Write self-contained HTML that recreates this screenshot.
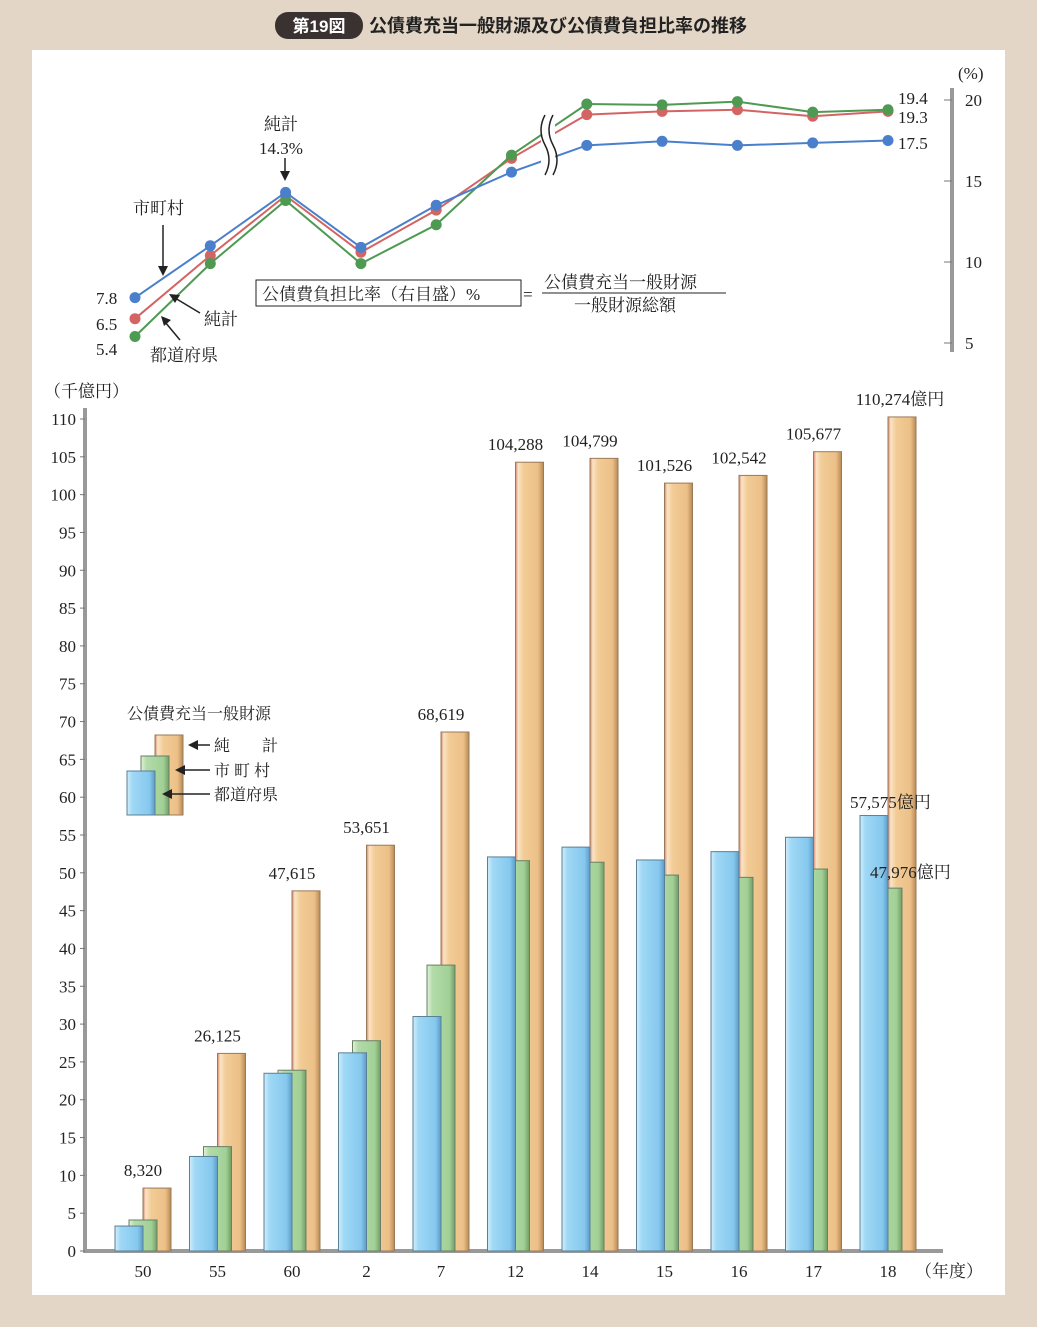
<!DOCTYPE html>
<html><head><meta charset="utf-8"><style>
body{margin:0;width:1037px;height:1327px;background:#e4d6c6;font-family:"Liberation Serif","Noto Serif CJK SC",serif;}
svg{display:block}
</style></head><body>
<svg width="1037" height="1327" xmlns="http://www.w3.org/2000/svg">
<defs>
<linearGradient id="gb" x1="0" x2="1"><stop offset="0" stop-color="#cfeefb"/><stop offset="0.2" stop-color="#9fd8f5"/><stop offset="0.8" stop-color="#86c8ee"/><stop offset="1" stop-color="#5c9cc8"/></linearGradient>
<linearGradient id="gg" x1="0" x2="1"><stop offset="0" stop-color="#e0f2da"/><stop offset="0.2" stop-color="#b2dba8"/><stop offset="0.8" stop-color="#a2d096"/><stop offset="1" stop-color="#6f9e66"/></linearGradient>
<linearGradient id="go" x1="0" x2="1"><stop offset="0" stop-color="#d98870"/><stop offset="0.1" stop-color="#fbe3c4"/><stop offset="0.3" stop-color="#f2cb95"/><stop offset="0.8" stop-color="#ecc088"/><stop offset="1" stop-color="#b88a55"/></linearGradient>
</defs>
<rect x="32" y="50" width="973" height="1245" fill="#fff"/>
<rect x="275" y="12" width="88" height="27" rx="13" fill="#3a3230"/>
<text x="319" y="32" fill="#fff" font-family="Liberation Sans,Noto Sans CJK JP,sans-serif" font-weight="bold" font-size="17" text-anchor="middle">第19図</text>
<text x="369" y="32" fill="#222" font-family="Liberation Sans,Noto Sans CJK JP,sans-serif" font-weight="bold" font-size="18">公債費充当一般財源及び公債費負担比率の推移</text>
<g id="topchart" font-size="17" fill="#222"></g>
<g id="botchart" font-size="17" fill="#222"></g>
</svg>
<script>
const NS="http://www.w3.org/2000/svg";
function mk(p,t,a,txt){const el=document.createElementNS(NS,t);for(const k in a)el.setAttribute(k,a[k]);if(txt!==undefined)el.textContent=txt;p.appendChild(el);return el;}
// ---- bar data (千億円) ----
const years=["50","55","60","2","7","12","14","15","16","17","18"];
const netVals=[8.32,26.125,47.615,53.651,68.619,104.288,104.799,101.526,102.542,105.677,110.274];
const netLabels=["8,320","26,125","47,615","53,651","68,619","104,288","104,799","101,526","102,542","105,677","110,274億円"];
const prefVals=[3.3,12.5,23.5,26.2,31.0,52.1,53.4,51.7,52.8,54.7,57.575];
const muniVals=[4.1,13.8,23.9,27.8,37.8,51.6,51.4,49.7,49.4,50.5,47.976];
const yTicks=[0,5,10,15,20,25,30,35,40,45,50,55,60,65,70,75,80,85,90,95,100,105,110];
// ---- line data (%) ----
const rateMuni=[7.8,11.0,14.3,10.9,13.5,15.55,17.2,17.45,17.2,17.35,17.5];
const rateNet=[6.5,10.4,14.1,10.6,13.2,16.4,19.1,19.3,19.4,19.0,19.3];
const ratePref=[5.4,9.9,13.8,9.9,12.3,16.6,19.75,19.7,19.9,19.25,19.4];
const rTicks=[5,10,15,20];

const botG=document.getElementById('botchart'), topG=document.getElementById('topchart');
const yS=v=>1251-v*7.5636;
const xc=i=>143+i*74.5;
let e;
e=mk(botG,'line',{x1:85,y1:408,x2:85,y2:1253,stroke:'#999',"stroke-width":4});


e=mk(botG,'line',{x1:83,y1:1251,x2:943,y2:1251,stroke:'#999',"stroke-width":4});


yTicks.forEach(t=>{
 e=mk(botG,'line',{x1:80,x2:85,y1:yS(t),y2:yS(t),stroke:'#777'});
 
 
 e=mk(botG,'text',{x:76,y:yS(t)+6,"text-anchor":"end"},t);
 
 
});
e=mk(botG,'text',{x:44,y:397},'（千億円）');


e=mk(botG,'text',{x:915,y:1277},'（年度）');


years.forEach((yr,i)=>{
 const c=xc(i);
 e=mk(botG,'rect',{x:c,y:yS(netVals[i]),width:28,height:1251-yS(netVals[i]),fill:'url(#go)',stroke:'#9a7a5a',"stroke-width":1});
 
 
 e=mk(botG,'rect',{x:c-14,y:yS(muniVals[i]),width:28,height:1251-yS(muniVals[i]),fill:'url(#gg)',stroke:'#6a7f66',"stroke-width":1});
 
 
 e=mk(botG,'rect',{x:c-28,y:yS(prefVals[i]),width:28,height:1251-yS(prefVals[i]),fill:'url(#gb)',stroke:'#5a7f96',"stroke-width":1});
 
 
 e=mk(botG,'text',{x:i==10?900:c,y:yS(netVals[i])-12,"text-anchor":"middle"},netLabels[i]);
 
 
 e=mk(botG,'text',{x:c,y:1277,"text-anchor":"middle"},yr);
 
 
});
e=mk(botG,'text',{x:850,y:808},'57,575億円');


e=mk(botG,'text',{x:870,y:878},'47,976億円');


// legend
const lg=mk(botG,'g',{});


mk(lg,'text',{x:127,y:719,"font-size":16},'公債費充当一般財源');
mk(lg,'rect',{x:155,y:735,width:28,height:80,fill:'url(#go)',stroke:'#9a7a5a'});
mk(lg,'rect',{x:141,y:756,width:28,height:59,fill:'url(#gg)',stroke:'#6a7f66'});
mk(lg,'rect',{x:127,y:771,width:28,height:44,fill:'url(#gb)',stroke:'#5a7f96'});
[[745,'純　　計',188],[770,'市 町 村',175],[794,'都道府県',162]].forEach(a=>{
 mk(lg,'line',{x1:a[2]+8,y1:a[0],x2:210,y2:a[0],stroke:'#222',"stroke-width":1.5});
 mk(lg,'path',{d:`M${a[2]} ${a[0]} l10 -5 v10z`,fill:'#222'});
 mk(lg,'text',{x:214,y:a[0]+6,"font-size":16},a[1]);
});
// ---- top line chart ----
const ry=v=>343-(v-5)*16.2;
const lx=i=>135+i*75.3;
e=mk(topG,'line',{x1:952,y1:88,x2:952,y2:352,stroke:'#999',"stroke-width":4});


rTicks.forEach(t=>{
 e=mk(topG,'line',{x1:944,x2:952,y1:ry(t),y2:ry(t),stroke:'#777'});
 
 
 e=mk(topG,'text',{x:965,y:ry(t)+6},t);
 
 
});
e=mk(topG,'text',{x:958,y:79},'(%)');


[[rateNet,'#d46464','line-net'],[ratePref,'#4e9a52','line-prefecture'],[rateMuni,'#4a7fcc','line-municipal']].forEach(s=>{
 const pts=s[0].map((v,i)=>lx(i)+','+ry(v)).join(' ');
 e=mk(topG,'polyline',{points:pts,fill:'none',stroke:s[1],"stroke-width":2});
 
 
 s[0].forEach((v,i)=>{
  e=mk(topG,'circle',{cx:lx(i),cy:ry(v),r:5.5,fill:s[1]});
  
  
 });
});
// break mark
mk(topG,'rect',{x:541,y:115,width:14,height:60,fill:'#fff'});
e=mk(topG,'path',{d:'M545 115 q-8 15 0 30 q8 15 0 30 M553 115 q-8 15 0 30 q8 15 0 30',fill:'none',stroke:'#222',"stroke-width":1.5});


const tl=[[96,304,'7.8'],[96,330,'6.5'],[96,355,'5.4'],[898,104,'19.4'],[898,123,'19.3'],[898,149,'17.5'],[133,214,'市町村'],[264,130,'純計'],[259,154,'14.3%'],[204,325,'純計'],[150,361,'都道府県']];
tl.forEach(a=>{
 e=mk(topG,'text',{x:a[0],y:a[1]},a[2]);
 
 
});
[['M163 225 V270','M163 276 l-5 -10 h10z'],['M285 158 V175','M285 181 l-5 -10 h10z'],['M200 313 L175 298','M169 294 l11 1 l-5 8z'],['M180 340 L165 322','M161 316 l10 4 l-7 6z']].forEach(a=>{
 mk(topG,'path',{d:a[0],stroke:'#222',"stroke-width":1.5,fill:'none'});
 mk(topG,'path',{d:a[1],fill:'#222'});
});
// formula
const f=mk(topG,'g',{});


mk(f,'rect',{x:256,y:280,width:265,height:26,fill:'none',stroke:'#222'});
mk(f,'text',{x:262,y:300},'公債費負担比率（右目盛）%');
mk(f,'text',{x:523,y:300},'=');
mk(f,'text',{x:544,y:288},'公債費充当一般財源');
mk(f,'line',{x1:542,x2:726,y1:293,y2:293,stroke:'#222'});
mk(f,'text',{x:574,y:311},'一般財源総額');
</script>
</body></html>
